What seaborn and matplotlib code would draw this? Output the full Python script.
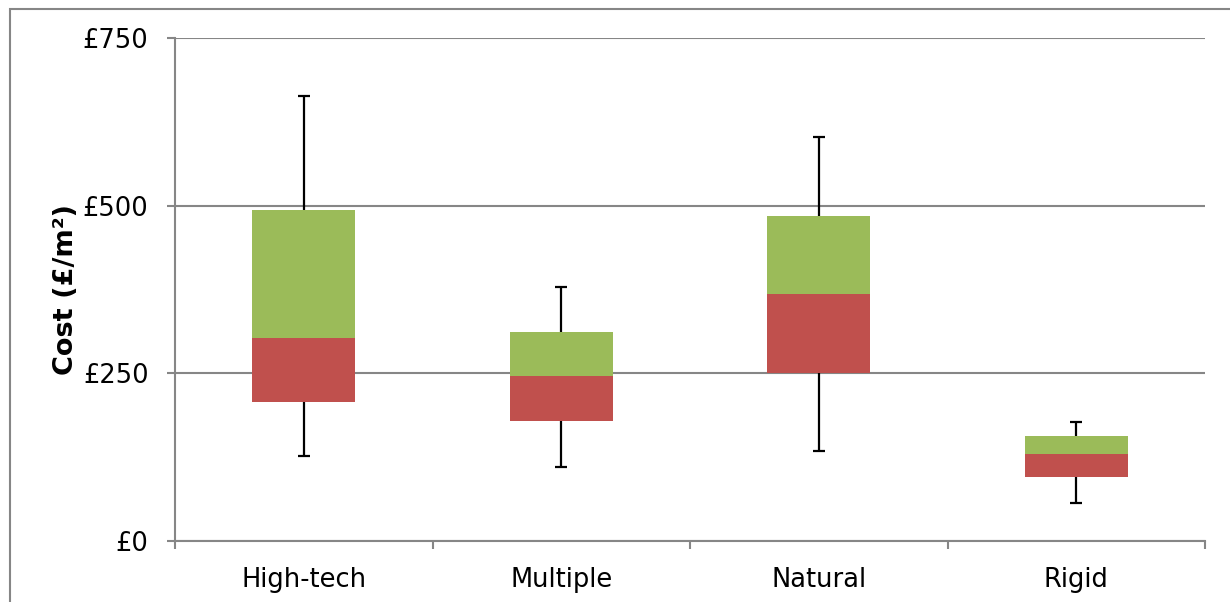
import numpy as np
import pandas as pd
import matplotlib
matplotlib.use("Agg")
import matplotlib.pyplot as plt
from matplotlib.patches import Rectangle
import seaborn as sns

# valores (custo em £/m²)
categorias = ["High-tech", "Multiple", "Natural", "Rigid"]
minimo = [127, 111, 134, 56]
quartil1 = [208, 179, 251, 95]
mediana = [303, 246, 368, 129]
quartil3 = [493, 311, 485, 157]
maximo = [663, 378, 603, 177]
ticks_y = [0, 250, 500, 750]
rotulos_y = ["£0", "£250", "£500", "£750"]

df = pd.DataFrame({
    "Categoria": categorias,
    "Min": minimo,
    "Q1": quartil1,
    "Mediana": mediana,
    "Q3": quartil3,
    "Max": maximo,
})
df["Inferior"] = df["Mediana"] - df["Q1"]
df["Superior"] = df["Q3"] - df["Mediana"]

sns.set_theme(style="white")
plt.rcParams["font.family"] = ["DejaVu Sans"]

cinza = "#868686"
vermelho = "#C0504D"
verde = "#9BBB59"

fig = plt.figure(figsize=(12.3, 6.02), dpi=100)
ax = fig.add_axes([175 / 1230, 1 - 541 / 602, 1030 / 1230, 503 / 602])

# caixas: parte inferior (Q1 -> mediana) e superior (mediana -> Q3)
sns.barplot(data=df, x="Categoria", y="Inferior", bottom=df["Q1"].values,
            color=vermelho, width=0.4, linewidth=0, saturation=1,
            ax=ax, zorder=3)
sns.barplot(data=df, x="Categoria", y="Superior", bottom=df["Mediana"].values,
            color=verde, width=0.4, linewidth=0, saturation=1,
            ax=ax, zorder=3)

# bigodes (min -> max), a parte central fica escondida atrás das caixas
pos = np.arange(len(categorias))
centro = (df["Min"] + df["Max"]) / 2
meio = (df["Max"] - df["Min"]) / 2
ax.errorbar(pos, centro, yerr=meio, fmt="none", ecolor="black",
            elinewidth=1.6, capsize=4.5, capthick=1.6, zorder=2)

ax.set_ylim(0, 750)
ax.set_xlim(-0.5, 3.5)
ax.set_yticks(ticks_y)
ax.set_yticklabels(rotulos_y)
ax.set_xticks(pos)
ax.set_xticklabels(categorias)
ax.set_xticks(np.arange(-0.5, 4, 1), minor=True)

ax.grid(axis="y", color=cinza, linewidth=1.5)
ax.grid(axis="x", visible=False)
ax.set_axisbelow(True)

for lado in ["top", "right"]:
    ax.spines[lado].set_visible(False)
for lado in ["left", "bottom"]:
    ax.spines[lado].set_color(cinza)
    ax.spines[lado].set_linewidth(1.5)

ax.tick_params(axis="y", which="major", left=True, length=6, width=1.5,
               color=cinza, labelsize=18.5, pad=13, labelcolor="black")
ax.tick_params(axis="x", which="major", bottom=False, length=0,
               labelsize=18.5, pad=18.5, labelcolor="black")
ax.tick_params(axis="x", which="minor", bottom=True, length=6, width=1.5,
               color=cinza)

ax.set_xlabel("")
ax.set_ylabel("Cost (£/m²)", fontsize=19.5, fontweight="bold", labelpad=3,
              color="black")

# moldura da área do gráfico
fig.patches.append(Rectangle((9.5 / 1230, -0.2), 1.5, 1 - 9 / 602 + 0.2,
                             transform=fig.transFigure, fill=False,
                             edgecolor=cinza, linewidth=1.5))

fig.savefig("out.png", dpi=100)
